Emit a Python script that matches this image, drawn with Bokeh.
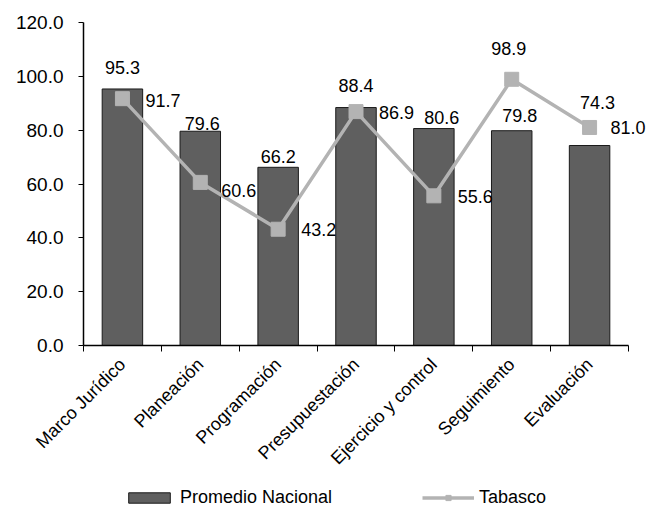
import numpy as np
from bokeh.plotting import figure
from bokeh.models import (ColumnDataSource, FixedTicker, CustomJSTickFormatter,
                          NumeralTickFormatter, Legend, LegendItem, Range1d, LabelSet)
from bokeh.core.properties import value
from bokeh.embed import file_html
from bokeh.resources import INLINE

categories = ["Marco Jurídico", "Planeación", "Programación", "Presupuestación",
              "Ejercicio y control", "Seguimiento", "Evaluación"]
promedio_nacional = [95.3, 79.6, 66.2, 88.4, 80.6, 79.8, 74.3]
tabasco = [91.7, 60.6, 43.2, 86.9, 55.6, 98.9, 81.0]
y_ticks = [0, 20, 40, 60, 80, 100, 120]
y_max = 120

# label styling offsets (pixels, positive = up)
bar_lbl_dx = [0, 2, 0, 0, 8, 8, 8]
bar_lbl_dy = [21, 8, 11, 22, 11, 15, 43]
line_lbl_dx = [23, 21, 23, 23, 24, -3, 21]
line_lbl_dy = [-2, -8, 0, -1, -1, 31, 0]
line_lbl_align = ["left", "left", "left", "left", "left", "center", "left"]

FONT = "Liberation Sans"
FS = "18px"
FS_Y = "19px"
BAR_COLOR = "#5f5f5f"
LINE_COLOR = "#b3b3b3"

n = len(categories)
xpos = np.arange(n) + 0.5

# layout (pixels): the frame covers the whole canvas, axes are fixed inside it
W, H = 647, 508
PLOT_L, PLOT_T = 83, 22            # top-left of the bar area
PLOT_W, PLOT_H = 545, 323          # size of the bar area
px_per_x = PLOT_W / n
px_per_y = PLOT_H / y_max

src = ColumnDataSource(dict(
    x=xpos, pn=promedio_nacional, tb=tabasco,
    pn_lbl=[f"{v:.1f}" for v in promedio_nacional],
    tb_lbl=[f"{v:.1f}" for v in tabasco],
    bdx=bar_lbl_dx, bdy=bar_lbl_dy, ldx=line_lbl_dx, ldy=line_lbl_dy,
    lal=line_lbl_align,
))

p = figure(frame_width=W, frame_height=H, output_backend="svg",
           toolbar_location=None,
           x_range=Range1d(-PLOT_L / px_per_x, (W - PLOT_L) / px_per_x),
           y_range=Range1d(-(H - PLOT_T - PLOT_H) / px_per_y, y_max + PLOT_T / px_per_y),
           min_border_left=0, min_border_top=0, min_border_right=0,
           min_border_bottom=0)
p.outline_line_color = None
p.xgrid.visible = False
p.ygrid.visible = False
p.background_fill_color = "white"
p.border_fill_color = "white"

bars = p.vbar(x="x", top="pn", width=0.52, bottom=0, source=src,
              fill_color=BAR_COLOR, line_color="#1a1a1a", line_width=1)
ln = p.line(x="x", y="tb", source=src, line_color=LINE_COLOR, line_width=3.5)
mk = p.scatter(x="x", y="tb", source=src, marker="square", size=14,
               fill_color=LINE_COLOR, line_color=LINE_COLOR)

bar_labels = LabelSet(x="x", y="pn", text="pn_lbl", source=src,
                      x_offset="bdx", y_offset="bdy",
                      text_align="center", text_baseline="middle",
                      text_font=value(FONT), text_font_size=value(FS), text_color="black")
line_labels = LabelSet(x="x", y="tb", text="tb_lbl", source=src,
                       x_offset="ldx", y_offset="ldy",
                       text_align="lal", text_baseline="middle",
                       text_font=value(FONT), text_font_size=value(FS), text_color="black")
p.add_layout(bar_labels)
p.add_layout(line_labels)

# axes
yax = p.yaxis[0]
yax.fixed_location = 0
yax.bounds = (0, y_max)
yax.ticker = FixedTicker(ticks=y_ticks)
yax.formatter = NumeralTickFormatter(format="0.0")
yax.major_label_text_font = FONT
yax.major_label_text_font_size = FS_Y
yax.major_label_text_color = "black"
yax.axis_line_color = "black"
yax.axis_line_width = 1.5
yax.major_tick_line_color = "black"
yax.major_tick_out = 5
yax.major_tick_in = 0
yax.minor_tick_line_color = None
yax.major_label_standoff = 15

xax = p.xaxis[0]
xax.fixed_location = 0
xax.bounds = (0, n)
xax.ticker = FixedTicker(ticks=list(xpos), minor_ticks=list(range(n + 1)))
xax.formatter = CustomJSTickFormatter(args=dict(cats=categories),
                                      code="return cats[Math.floor(tick)];")
xax.major_label_orientation = np.pi / 4
xax.major_label_text_font = FONT
xax.major_label_text_font_size = FS
xax.major_label_text_color = "black"
xax.axis_line_color = "black"
xax.axis_line_width = 1.5
xax.major_tick_line_color = None
xax.minor_tick_line_color = "black"
xax.minor_tick_out = 6
xax.minor_tick_in = 0
xax.major_label_standoff = 10

legend = Legend(items=[LegendItem(label="Promedio Nacional", renderers=[bars]),
                       LegendItem(label="Tabasco", renderers=[ln, mk])],
                orientation="horizontal", location=(123, 0),
                label_text_font=FONT, label_text_font_size=FS,
                label_text_color="black",
                glyph_width=52, glyph_height=13, spacing=90,
                border_line_color=None, background_fill_alpha=0,
                label_standoff=5, padding=2, margin=0)
p.add_layout(legend, "center")

with open("out.html", "w") as f:
    f.write(file_html(p, INLINE))
